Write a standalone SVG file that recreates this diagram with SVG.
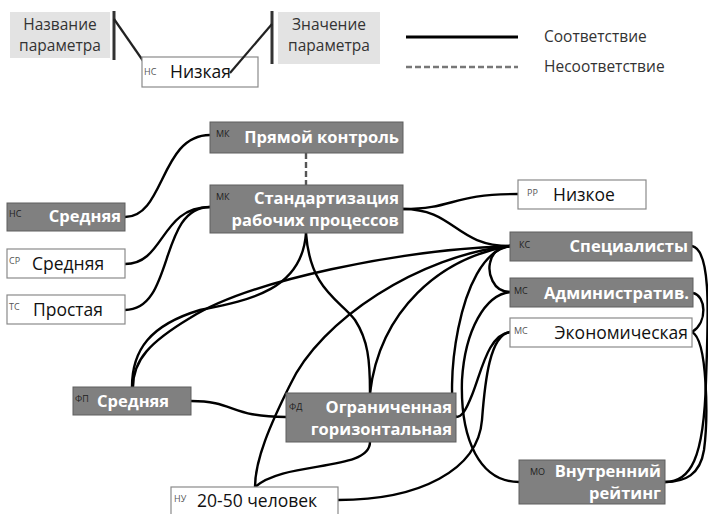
<svg xmlns="http://www.w3.org/2000/svg" width="708" height="514" viewBox="0 0 708 514">
<style>
.dk{fill:#808080;stroke:#5e5e5e;stroke-width:1}
.wt{fill:#fff;stroke:#8a8a8a;stroke-width:1.2}
.lg{fill:#e3e3e3}
.tw{font-family:"Open Sans","DejaVu Sans",sans-serif;font-weight:bold;font-size:16.5px;fill:#fff}
.tb{font-family:"Open Sans","DejaVu Sans",sans-serif;font-size:17.5px;fill:#111}
.tl{font-family:"Open Sans","DejaVu Sans",sans-serif;font-size:15.5px;fill:#333}
.tl2{font-family:"Open Sans","DejaVu Sans",sans-serif;font-size:15.5px;fill:#333}
.sm{font-family:"Open Sans","DejaVu Sans",sans-serif;font-size:9px;fill:#222}
.smw{font-family:"Open Sans","DejaVu Sans",sans-serif;font-size:9px;fill:#555}
.c{fill:none;stroke:#000;stroke-width:2.4}
.d{fill:none;stroke:#555;stroke-width:2.4;stroke-dasharray:6 3}
</style>
<g id="legend">
<rect class="lg" x="10" y="12" width="100" height="46"/>
<text class="tl" x="60" y="30" text-anchor="middle">Название</text>
<text class="tl" x="60" y="51" text-anchor="middle">параметра</text>
<rect class="lg" x="278" y="12" width="102" height="52"/>
<text class="tl" x="329" y="30" text-anchor="middle">Значение</text>
<text class="tl" x="329" y="51" text-anchor="middle">параметра</text>
<line x1="114" y1="11" x2="114" y2="60" stroke="#333" stroke-width="3"/>
<line x1="114" y1="19" x2="148" y2="68" stroke="#222" stroke-width="2.2"/>
<line x1="272" y1="11" x2="272" y2="64" stroke="#333" stroke-width="3"/>
<rect class="wt" x="142" y="57" width="116" height="30"/>
<text class="smw" x="144" y="75">НС</text>
<text class="tb" x="170" y="78">Низкая</text>
<line x1="230" y1="73" x2="272" y2="24" stroke="#222" stroke-width="2.2"/>
<line x1="406" y1="37" x2="518" y2="37" stroke="#000" stroke-width="3"/>
<text class="tl2" x="544" y="42">Соответствие</text>
<line x1="406" y1="67" x2="518" y2="67" stroke="#777" stroke-width="2.4" stroke-dasharray="6 3"/>
<text class="tl2" x="544" y="72">Несоответствие</text>
</g>
<g id="connectors">
<path class="d" d="M306,153 L306,185"/>
<path class="c" d="M125,217 C165,217 160,135 210,135"/>
<path class="c" d="M125,264 C165,264 160,207 210,207"/>
<path class="c" d="M125,310 C175,310 158,207 210,207"/>
<path class="c" d="M403,209 C455,209 450,194 518,194"/>
<path class="c" d="M403,209 C455,209 455,246 510,246"/>
<path class="c" d="M306,233 C302,290 250,300 200,310 C150,325 132,350 132,387"/>
<path class="c" d="M510,246 C400,250 250,280 190,318 C150,342 133,360 133,387"/>
<path class="c" d="M306,233 C310,290 340,300 355,320 C368,340 370,360 370,393"/>
<path class="c" d="M510,246 C440,258 380,310 370,393"/>
<path class="c" d="M510,246 C420,255 320,320 290,385 C270,425 255,460 255,487"/>
<path class="c" d="M370,442 C370,472 285,460 255,487"/>
<path class="c" d="M191,401 C235,401 230,417 286,417"/>
<path class="c" d="M510,246 C455,255 445,400 456,417"/>
<path class="c" d="M510,292 C492,292 488,272 490,263 C492,252 500,247 510,246"/>
<path class="c" d="M510,292 C485,295 465,330 462,380 C460,440 480,482 519,482"/>
<path class="c" d="M510,332 C488,335 482,370 472,395 C466,410 462,417 456,417"/>
<path class="c" d="M510,332 C490,335 485,380 482,420 C478,470 420,500 338,500"/>
<path class="c" d="M692,246 C712,250 708,320 706,380 C704,460 690,482 665,482"/>
<path class="c" d="M693,293 C706,296 708,322 692,332"/>
<path class="c" d="M692,332 C708,340 708,420 704,450 C700,475 685,482 665,482"/>
</g>
<g id="n-pryamoy">
<rect class="dk" x="210" y="122" width="193" height="31"/>
<text class="sm" x="216" y="137">МК</text>
<text class="tw" x="399" y="143" text-anchor="end" font-size="17">Прямой контроль</text>
</g>
<g id="n-standart">
<rect class="dk" x="210" y="185" width="193" height="48"/>
<text class="sm" x="216" y="200">МК</text>
<text class="tw" x="399" y="204" text-anchor="end">Стандартизация</text>
<text class="tw" x="399" y="226" text-anchor="end">рабочих процессов</text>
</g>
<g id="n-ns">
<rect class="dk" x="7" y="203" width="118" height="28"/>
<text class="sm" x="9" y="217">НС</text>
<text class="tw" x="121" y="222" text-anchor="end">Средняя</text>
</g>
<g id="n-sr">
<rect class="wt" x="7" y="249" width="118" height="29"/>
<text class="smw" x="9" y="264">СР</text>
<text class="tb" x="32" y="270">Средняя</text>
</g>
<g id="n-ts">
<rect class="wt" x="7" y="295" width="118" height="29"/>
<text class="smw" x="9" y="310">ТС</text>
<text class="tb" x="33" y="316">Простая</text>
</g>
<g id="n-rr">
<rect class="wt" x="518" y="180" width="128" height="29"/>
<text class="smw" x="527" y="196">РР</text>
<text class="tb" x="553" y="201">Низкое</text>
</g>
<g id="n-ks">
<rect class="dk" x="510" y="232" width="182" height="29"/>
<text class="sm" x="519" y="248">КС</text>
<text class="tw" x="688" y="252" text-anchor="end">Специалисты</text>
</g>
<g id="n-ms-adm">
<rect class="dk" x="510" y="278" width="183" height="29"/>
<text class="sm" x="514" y="294">МС</text>
<text class="tw" x="689" y="299" text-anchor="end">Административ.</text>
</g>
<g id="n-ms-eco">
<rect class="wt" x="510" y="318" width="182" height="29"/>
<text class="smw" x="514" y="334">МС</text>
<text class="tb" x="688" y="339" text-anchor="end">Экономическая</text>
</g>
<g id="n-fp">
<rect class="dk" x="73" y="387" width="118" height="28"/>
<text class="sm" x="75" y="402">ФП</text>
<text class="tw" x="97" y="407">Средняя</text>
</g>
<g id="n-fd">
<rect class="dk" x="286" y="393" width="170" height="49"/>
<text class="sm" x="289" y="410">ФД</text>
<text class="tw" x="452" y="413" text-anchor="end">Ограниченная</text>
<text class="tw" x="452" y="435" text-anchor="end">горизонтальная</text>
</g>
<g id="n-nu">
<rect class="wt" x="171" y="487" width="167" height="32"/>
<text class="smw" x="174" y="502">НУ</text>
<text class="tb" x="197" y="507">20-50 человек</text>
</g>
<g id="n-mo">
<rect class="dk" x="519" y="460" width="146" height="44"/>
<text class="sm" x="530" y="475">МО</text>
<text class="tw" x="661" y="477" text-anchor="end">Внутренний</text>
<text class="tw" x="661" y="499" text-anchor="end">рейтинг</text>
</g>
</svg>
